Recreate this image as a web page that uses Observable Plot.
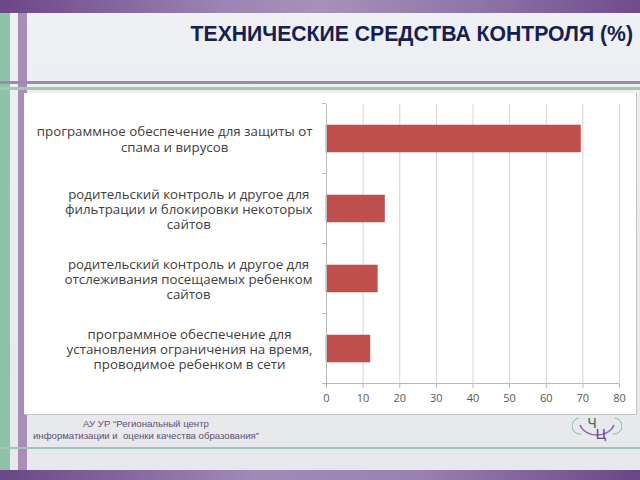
<!DOCTYPE html>
<html>
<head>
<meta charset="utf-8">
<script src="https://cdn.jsdelivr.net/npm/d3@7"></script>
<script src="https://cdn.jsdelivr.net/npm/@observablehq/plot@0.6"></script>
<style>
  html, body { margin: 0; padding: 0; }
  #slide { position: relative; width: 640px; height: 480px; overflow: hidden;
    background: linear-gradient(180deg, #eef0f3 0%, #e7e8ec 100%); font-family: "Liberation Sans", Arial, sans-serif; }
  .abs { position: absolute; }
  #title { position: absolute; right: 7px; top: 22px; font: bold 21.2px "Liberation Sans", Arial, sans-serif; color: #16204f; white-space: nowrap; }
  #panel { position: absolute; left: 24px; top: 93px; width: 612px; height: 321px; background: #fff; border-right: 1px solid #c4c4c4; border-bottom: 1px solid #c4c4c4; }
  #chart { position: absolute; left: 24px; top: 93px; }
  #footer { position: absolute; left: 146px; top: 418px; transform: translateX(-50%); text-align: center; font: 9.6px "Liberation Sans", Arial, sans-serif; color: #5c4f72; line-height: 12px; white-space: nowrap; }
</style>
</head>
<body>
<div id="slide">
  <div class="abs" style="left:0;top:0;width:640px;height:13px;background:linear-gradient(90deg,#6b4688 0%,#9d84b3 35%,#a791b9 50%,#8f74a8 75%,#6f4c8c 100%);"></div>
  <div class="abs" style="left:0;top:13px;width:10px;height:467px;background:#8fc3a9;"></div>
  <div class="abs" style="left:18px;top:13px;width:9px;height:467px;background:#a88dbb;"></div>
  <div class="abs" style="left:0;top:81px;width:640px;height:3px;background:#9b8cab;"></div>
  <div class="abs" style="left:0;top:87px;width:640px;height:3px;background:#a2c8b4;"></div>
  <div class="abs" style="left:0;top:447px;width:640px;height:2px;background:#9ec6b2;"></div>
  <div class="abs" style="left:0;top:470px;width:640px;height:10px;background:linear-gradient(90deg,#6b4688 0%,#a08ab6 40%,#9a82b0 65%,#6a4587 100%);"></div>
  <div id="title">ТЕХНИЧЕСКИЕ СРЕДСТВА КОНТРОЛЯ (%)</div>
  <div id="panel"></div>
  <div id="chart"></div>
  <div id="footer">АУ УР “Региональный центр<br>информатизации и&nbsp; оценки качества образования”</div>
  <svg class="abs" style="left:572px;top:413px" width="50" height="34" viewBox="0 0 50 34">
    <path d="M8 12 A18 15 0 0 0 42 12" fill="none" stroke="#8a6aa6" stroke-width="1.5"/>
    <path d="M7 5 A7 7 0 0 0 9 21" fill="none" stroke="#7fb89c" stroke-width="1"/>
    <path d="M43 5 A7 7 0 0 1 41 21" fill="none" stroke="#7fb89c" stroke-width="1"/>
    <text x="20" y="15" font-family="DejaVu Sans" font-size="14" fill="#2f7a5a" text-anchor="middle">Ч</text>
    <text x="29" y="26" font-family="DejaVu Sans" font-size="14" fill="#6a3f8e" text-anchor="middle">Ц</text>
  </svg>
</div>
<script>
// ---- data ----
const categories = [
  "программное обеспечение для защиты от спама и вирусов",
  "родительский контроль и другое для фильтрации и блокировки некоторых сайтов",
  "родительский контроль и другое для отслеживания посещаемых ребенком сайтов",
  "программное обеспечение для установления ограничения на время, проводимое ребенком в сети"
];
const labelLines = [
  ["программное обеспечение для защиты от", "спама и вирусов"],
  ["родительский контроль и другое для", "фильтрации и блокировки некоторых", "сайтов"],
  ["родительский контроль и другое для", "отслеживания посещаемых ребенком", "сайтов"],
  ["программное обеспечение для", "установления ограничения на время,", "проводимое ребенком в сети"]
];
const values = [69.5, 16, 14, 12];
const xTicks = [0, 10, 20, 30, 40, 50, 60, 70, 80];

const data = categories.map((c, i) => ({category: c, value: values[i]}));

const labelSize = 13.3;
const ctx = document.createElement("canvas").getContext("2d");
ctx.font = `${labelSize}px 'Open Sans'`;
const gap = 14;
const marginLeft = 302;

const labelMarks = categories.map((c, i) => {
  const w = d3.max(labelLines[i], s => ctx.measureText(s).width);
  return Plot.text([c], {
    y: d => d,
    text: () => labelLines[i].join("\n"),
    frameAnchor: "left",
    dx: -(gap + w / 2),
    textAnchor: "middle",
    lineAnchor: "middle",
    lineHeight: 1.15,
    fontSize: labelSize,
    fontFamily: "Open Sans",
    fill: "#404040"
  });
});

const plot = Plot.plot({
  width: 612,
  height: 321,
  marginLeft,
  marginTop: 11,
  marginBottom: 30,
  marginRight: 17,
  style: {background: "transparent", fontFamily: "Open Sans"},
  x: {domain: [0, 80], label: null},
  y: {domain: categories, paddingInner: 0.614, paddingOuter: 0.307, label: null},
  marks: [
    Plot.gridX(xTicks.slice(1), {stroke: "#d4d4d4", strokeOpacity: 1}),
    Plot.barX(data, {x: "value", y: "category", fill: "#c0504d", stroke: "#b8484a", strokeWidth: 0.5}),
    Plot.ruleX([0], {stroke: "#b8b8b8"}),
    Plot.axisX({ticks: xTicks, tickSize: 4, tickPadding: 6, fontSize: 11, fill: "#595959", stroke: "#b8b8b8", label: null, tickFormat: d => String(d)}),
    Plot.axisY({ticks: [], label: null}),
    ...labelMarks
  ]
});

// category boundary ticks and bottom axis line, from the plot's own scales
const ys = plot.scale("y");
const xs = plot.scale("x");
const x0 = xs.apply(0), x1 = xs.apply(80);
const halfGap = ys.step * ys.paddingInner / 2;
const bounds = categories.map(c => ys.apply(c) - halfGap);
bounds.push(ys.apply(categories[categories.length - 1]) + ys.bandwidth + halfGap);
const svg = d3.select(plot);
const g = svg.append("g").attr("stroke", "#b8b8b8");
g.selectAll("line.t").data(bounds).join("line")
  .attr("x1", x0 - 4).attr("x2", x0).attr("y1", d => d).attr("y2", d => d);
g.append("line").attr("x1", x0).attr("x2", x1)
  .attr("y1", bounds[bounds.length - 1]).attr("y2", bounds[bounds.length - 1]);

document.getElementById("chart").appendChild(plot);
</script>
</body>
</html>
